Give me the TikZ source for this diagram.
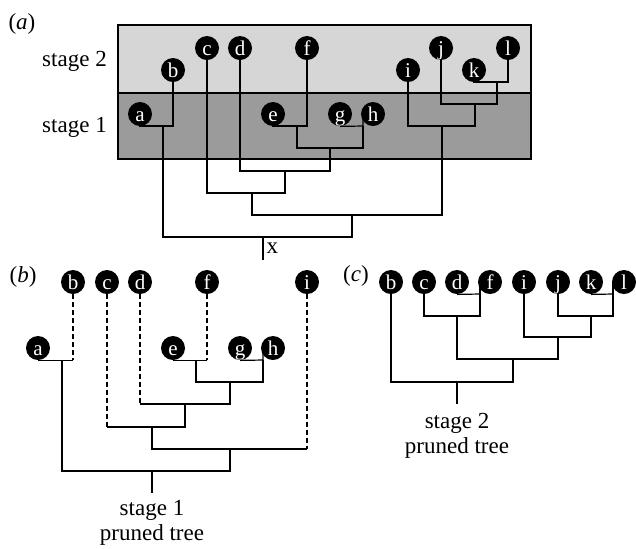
\documentclass[tikz,border=0pt]{standalone}
\usepackage{fontspec}
\setmainfont{Liberation Serif}
\usetikzlibrary{backgrounds}
\definecolor{stagetwo}{RGB}{214,214,214}
\definecolor{stageone}{RGB}{155,155,155}
\tikzset{
  leaf/.style={circle, fill=black, text=white, inner sep=0pt, minimum size=12pt,
    text height=7pt, text depth=0pt, font=\fontsize{10.5}{12}\selectfont},
  branch/.style={line width=0.6pt, black},
  pruned/.style={branch, dash pattern=on 2.5pt off 1.5pt},
  lbl/.style={font=\fontsize{11.5}{12.5}\selectfont, inner sep=0pt}
}

\begin{document}
\begin{tikzpicture}[x=0.5pt, y=-0.5pt]
    \useasboundingbox (0,0) rectangle (636,548);

    % Panel labels
    \node[lbl, anchor=base] (labA) at (22,29.5) {(\textit{a})};
    \node[lbl, anchor=base] (labB) at (23,282) {(\textit{b})};
    \node[lbl, anchor=base] (labC) at (356,281) {(\textit{c})};
    \node[lbl, anchor=base] (st2) at (74.5,66.5) {stage 2};
    \node[lbl, anchor=base] (st1) at (74.5,132.5) {stage 1};

    % (a) leaves
    \node[leaf] (Aa) at (140,114) {a};
    \node[leaf] (Ab) at (173,70) {b};
    \node[leaf] (Ac) at (207,48) {c};
    \node[leaf] (Ad) at (240,48) {d};
    \node[leaf] (Ae) at (273,114) {e};
    \node[leaf] (Af) at (307,48) {f};
    \node[leaf] (Ag) at (340,114) {g};
    \node[leaf] (Ah) at (373,114) {h};
    \node[leaf] (Ai) at (408,70) {i};
    \node[leaf] (Aj) at (441,48) {j};
    \node[leaf] (Ak) at (474,70) {k};
    \node[leaf] (Al) at (508,48) {l};

    % (b) leaves
    \node[leaf] (Ba) at (38,348) {a};
    \node[leaf] (Bb) at (73,282) {b};
    \node[leaf] (Bc) at (107,282) {c};
    \node[leaf] (Bd) at (140,282) {d};
    \node[leaf] (Be) at (173,348) {e};
    \node[leaf] (Bf) at (207,282) {f};
    \node[leaf] (Bg) at (240,348) {g};
    \node[leaf] (Bh) at (273,348) {h};
    \node[leaf] (Bi) at (307,282) {i};

    % (c) leaves
    \node[leaf] (Cb) at (391,282) {b};
    \node[leaf] (Cc) at (424,282) {c};
    \node[leaf] (Cd) at (457,282) {d};
    \node[leaf] (Cf) at (490,282) {f};
    \node[leaf] (Ci) at (524,282) {i};
    \node[leaf] (Cj) at (558,282) {j};
    \node[leaf] (Ck) at (591,282) {k};
    \node[leaf] (Cl) at (624,282) {l};

    % junctions
    \coordinate (Aab) at (163,126);
    \coordinate (Aef) at (297,126);
    \coordinate (Agh) at (363,126);
    \coordinate (Aefgh) at (330,148);
    \coordinate (Adh) at (285,171);
    \coordinate (Ach) at (252,193);
    \coordinate (Akl) at (497,82);
    \coordinate (Ajl) at (475,104);
    \coordinate (Ail) at (442,126);
    \coordinate (Acl) at (352,215);
    \coordinate (Aroot) at (263,237);
    \coordinate (Afoot) at (263,260);

    \coordinate (Bab) at (62,360);
    \coordinate (Bef) at (196,360);
    \coordinate (Bgh) at (263,360);
    \coordinate (Befgh) at (230,382);
    \coordinate (Bdh) at (185,404);
    \coordinate (Bch) at (152,427);
    \coordinate (Bci) at (230,449);
    \coordinate (Broot) at (152,471);
    \coordinate (Bfoot) at (152,493);

    \coordinate (Cdf) at (480,294);
    \coordinate (Ccf) at (457,316);
    \coordinate (Ckl) at (613,294);
    \coordinate (Cjl) at (591,316);
    \coordinate (Cil) at (558,337);
    \coordinate (Ccl) at (513,359);
    \coordinate (Croot) at (457,382);
    \coordinate (Cfoot) at (457,404);

    \begin{scope}[on background layer]
        % Stage bands
        \fill[stagetwo] (118,25) rectangle (531,93);
        \fill[stageone] (118,93) rectangle (531,159);
        \draw[branch] (118,25) rectangle (531,159);
        \draw[branch] (118,93) -- (531,93);

        % (a) full tree
        \draw[branch] (Aa.south) |- (Aab) -| (Ab);
        \draw[branch] (Ae.south) |- (Aef) -| (Af);
        \draw[branch] (Ag.south) -- (Agh) -- (Agh |- Ah.center);
        \draw[branch] (Aef) |- (Aefgh) -| (Agh);
        \draw[branch] (Ad) |- (Adh) -| (Aefgh);
        \draw[branch] (Ac) |- (Ach) -| (Adh);
        \draw[branch] (Ak.south) |- (Akl) -| (Al);
        \draw[branch] (Aj) |- (Ajl) -| (Akl);
        \draw[branch] (Ai) |- (Ail) -| (Ajl);
        \draw[branch] (Ach) |- (Acl) -| (Ail);
        \draw[branch] (Aab) |- (Aroot) -| (Acl);
        \draw[branch] (Aroot) -- (Afoot) node[midway, right, lbl, inner sep=1.5pt] {x};

        % (b) stage 1
        \draw[branch] (Ba.south) -- (Ba.south -| Bb);
        \draw[pruned] (Bb) -- (Ba.south -| Bb);
        \draw[branch] (Be.south) -- (Be.south -| Bf);
        \draw[pruned] (Bf) -- (Be.south -| Bf);
        \draw[branch] (Bg.south) -- (Bgh) -- (Bgh |- Bh.center);
        \draw[branch] (Bef) |- (Befgh) -| (Bgh);
        \draw[pruned] (Bd) -- (Bd |- Bdh);
        \draw[branch] (Bd |- Bdh) -| (Befgh);
        \draw[pruned] (Bc) -- (Bc |- Bch);
        \draw[branch] (Bc |- Bch) -| (Bdh);
        \draw[pruned] (Bi) -- (Bi |- Bci);
        \draw[branch] (Bch) |- (Bi |- Bci);
        \draw[branch] (Bab) |- (Broot) -| (Bci);
        \draw[branch] (Broot) -- (Bfoot);

        % (c) stage 2
        \draw[branch] (Cd.south) -- (Cdf);
        \draw[branch] (Cc) |- (Ccf) -| (Cdf) -- (Cdf |- Cf.center);
        \draw[branch] (Ck.south) -- (Ckl);
        \draw[branch] (Cj) |- (Cjl) -| (Ckl) -- (Ckl |- Cl.center);
        \draw[branch] (Ci) |- (Cil) -| (Cjl);
        \draw[branch] (Ccf) |- (Ccl) -| (Cil);
        \draw[branch] (Cb) |- (Croot) -| (Ccl);
        \draw[branch] (Croot) -- (Cfoot);
    \end{scope}

    \node[lbl, align=center, anchor=north] (prunedB) at (152,500) {stage 1\\pruned tree};
    \node[lbl, align=center, anchor=north] (prunedC) at (457,413) {stage 2\\pruned tree};
\end{tikzpicture}
\end{document}
